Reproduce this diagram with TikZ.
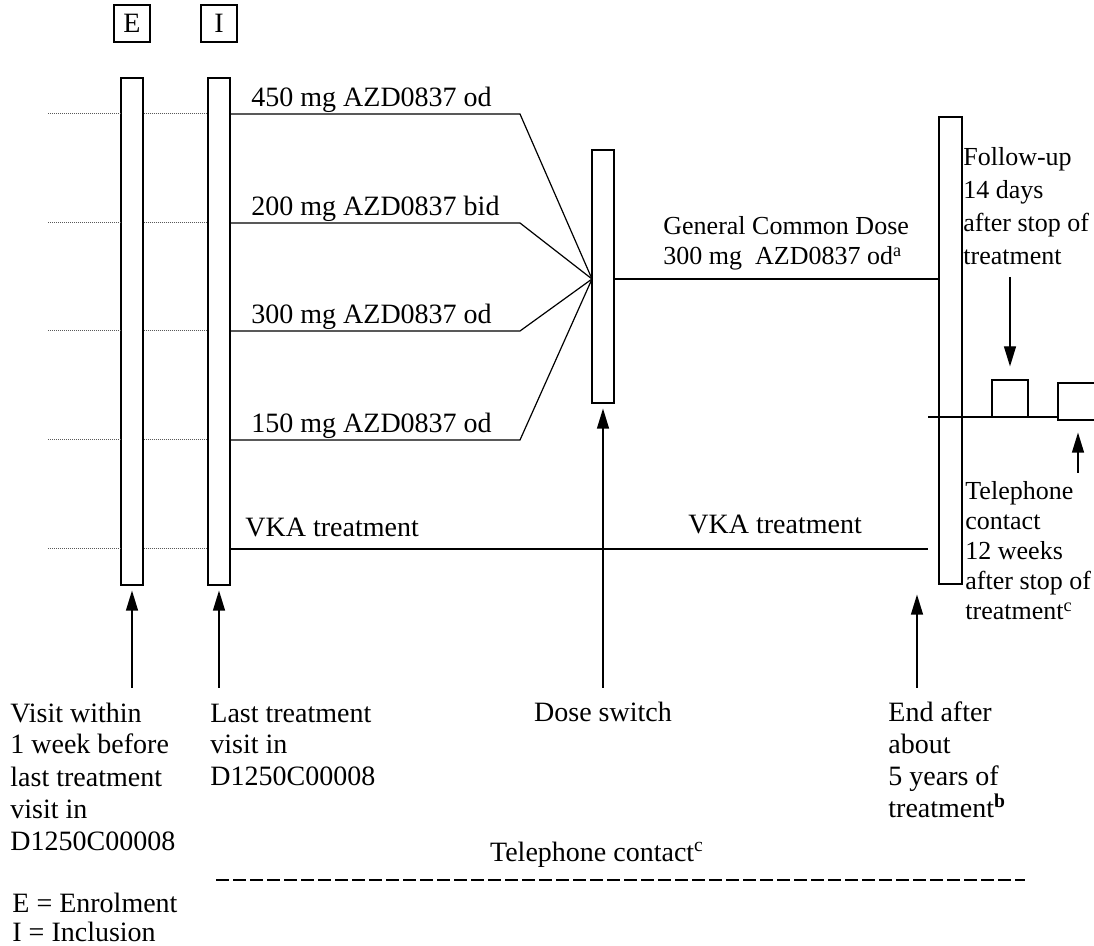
\documentclass[tikz,border=0pt]{standalone}
\usepackage{fontspec}
\setmainfont{Liberation Serif}
\usetikzlibrary{arrows.meta}

\begin{document}
\begin{tikzpicture}[x=.5pt,y=-.5pt,
                    line/.style={line width=.6pt},
                    guide/.style={line width=.5pt,black!65,dash pattern=on .6pt off .4pt},
                    dashline/.style={line width=.8pt,dash pattern=on 6.5pt off 2pt},
                    bar/.style={draw,line width=.6pt,minimum width=11pt,inner sep=0pt},
                    letterbox/.style={draw,line width=.6pt,minimum width=18pt,minimum height=18.5pt,inner sep=0pt},
                    pointer/.style={line width=.6pt,-{Triangle[length=10pt,width=6pt]}},
                    lbl/.style={inner sep=0pt,font=\fontsize{14}{16}\selectfont},
                    side/.style={inner sep=0pt,align=left,font=\fontsize{13}{16.5}\selectfont}]
 \useasboundingbox (0,0) rectangle (1094,946);
 % visit bars
 \node[letterbox,font=\fontsize{14}{16}\selectfont] (E) at (132,23.5) {E};
 \node[letterbox,font=\fontsize{14}{16}\selectfont] (I) at (219,23.5) {I};
 \node[bar,minimum height=253.5pt] (enrol) at (132,331.5) {};
 \node[bar,minimum height=253.5pt] (incl) at (219,331.5) {};
 \node[bar,minimum height=126.5pt] (switch) at (603,276.5) {};
 \node[bar,minimum width=11.5pt,minimum height=233.5pt] (stop) at (950.5,350.5) {};
 % previous study rows
 \foreach \y in {114,223,331,440,549} {
   \draw[guide] (48,\y) -- (enrol.west |- 0,\y);
   \draw[guide] (enrol.east |- 0,\y) -- (incl.west |- 0,\y);
 }
 % randomised doses
 \coordinate (conv) at (592,279);
 \foreach \y/\dose/\nm in {114/450 mg AZD0837 od/a,223/200 mg AZD0837 bid/b,
                           331/300 mg AZD0837 od/c,440/150 mg AZD0837 od/d} {
   \draw[line] (incl.east |- 0,\y) -- (520,\y) -- (conv);
   \node[lbl,anchor=base west] (dose\nm) at (251,\y-7) {\dose};
 }
 \draw[line] (switch.east |- conv) -- (stop.west |- conv);
 \node[lbl,align=left,anchor=base west,font=\fontsize{13}{15}\selectfont] (common) at (663,265)
   {General Common Dose\\300 mg~~AZD0837 od\textsuperscript{a}};
 % VKA arm
 \coordinate (vkaend) at (928,549);
 \draw[line] (incl.east |- vkaend) -- (vkaend);
 \node[lbl,anchor=base west] (vkaA) at (245,537) {VKA treatment};
 \node[lbl,anchor=base west] (vkaB) at (688,534) {VKA treatment};
 % follow-up
 \coordinate (fu) at (928,417);
 \node[letterbox] (fubox) at (1010,398.5) {};
 \node[letterbox,minimum width=22pt] (telbox) at (1080,401.5) {};
 \draw[line] (fu) -- (telbox.west |- fu);
 \coordinate (fuin) at (1010,277);
 \draw[pointer,shorten >=6.5pt] (fuin) -- (fubox.north);
 \coordinate (telin) at (1078,473);
 \draw[pointer,shorten >=6pt] (telin) -- (telin |- telbox.south);
 \node[side,anchor=base west] (futxt) at (963,265)
   {Follow-up\\14 days\\after stop of\\treatment};
 \node[side,anchor=base west,font=\fontsize{13}{15}\selectfont] (teltxt) at (965,620)
   {Telephone\\contact\\12 weeks\\after stop of\\treatment\textsuperscript{c}};
 % time points
 \coordinate (enrolin) at (132,688); \coordinate (inclin) at (219,688);
 \coordinate (switchin) at (603,688); \coordinate (stopin) at (917,688);
 \draw[pointer,shorten >=2.5pt] (enrolin) -- (enrol.south);
 \draw[pointer,shorten >=2.5pt] (inclin) -- (incl.south);
 \draw[pointer,shorten >=2.5pt] (switchin) -- (switch.south);
 \draw[pointer,shorten >=5pt] (stopin) -- (stopin |- stop.south);
 \node[lbl,align=left,anchor=base west] (enroltxt) at (10,850)
   {Visit within\\1 week before\\last treatment\\visit in\\D1250C00008};
 \node[lbl,align=left,anchor=base west] (incltxt) at (210,786)
   {Last treatment\\visit in\\D1250C00008};
 \node[lbl,anchor=base] (switchtxt) at (603,722) {Dose switch};
 \node[lbl,align=left,anchor=base west] (stoptxt) at (888,818)
   {End after\\about\\5 years of\\treatment\textsuperscript{\textbf{b}}};
 % telephone contacts
 \node[lbl,anchor=base] (phone) at (597,862) {Telephone contact\textsuperscript{c}};
 \draw[dashline] (216,880) -- (1025,880);
 \node[lbl,align=left,anchor=base west,font=\fontsize{14}{14.5}\selectfont] (legend) at (12,942)
   {E = Enrolment\\I = Inclusion};
\end{tikzpicture}
\end{document}
